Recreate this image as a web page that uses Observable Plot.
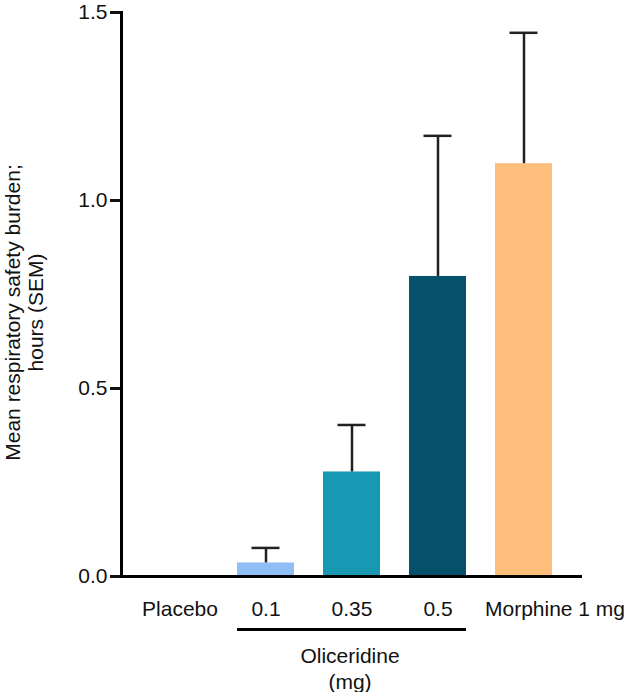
<!DOCTYPE html>
<html>
<head>
<meta charset="utf-8">
<script src="https://cdn.jsdelivr.net/npm/d3@7"></script>
<script src="https://cdn.jsdelivr.net/npm/@observablehq/plot@0.6"></script>
<style>
  body { margin: 0; background: #fff; }
  #chart svg { font-family: "Liberation Sans", Arial, sans-serif; }
</style>
</head>
<body>
<div id="chart"></div>
<script>
const groups = ["Placebo", "0.1", "0.35", "0.5", "Morphine 1 mg"];
const means = [0, 0.036, 0.278, 0.798, 1.098];
const upper = [0, 0.076, 0.403, 1.172, 1.446];
const colors = ["#ffffff", "#8fbef7", "#1798b3", "#05506a", "#fdbe7b"];
const yTicks = [0, 0.5, 1.0, 1.5];
const yLabel = "Mean respiratory safety burden;\nhours (SEM)";
const bracketLabel = "Oliceridine\n(mg)";

const data = groups.map((g, i) => ({group: g, mean: means[i], upper: upper[i]}));
const withErr = data.filter(d => d.upper > d.mean);

const chart = Plot.plot({
  width: 628,
  height: 692,
  marginTop: 12,
  marginBottom: 116,
  marginLeft: 121,
  marginRight: 46,
  style: {fontSize: "21px", fontFamily: "Liberation Sans, Arial, sans-serif", color: "#111"},
  x: {domain: groups, paddingInner: 0.34, paddingOuter: 0.35, axis: null},
  y: {domain: [0, 1.5], axis: null},
  color: {domain: groups, range: colors},
  marks: [
    Plot.barY(data, {x: "group", y: "mean", fill: "group"}),
    Plot.ruleX(withErr, {x: "group", y1: "mean", y2: "upper", stroke: "#222", strokeWidth: 2.5}),
    Plot.tickY(withErr, {x: "group", y: "upper", stroke: "#222", strokeWidth: 2.5, insetLeft: 14.5, insetRight: 14.5}),
    Plot.axisY({ticks: yTicks, tickFormat: d3.format(".1f"), tickSize: 11, tickPadding: 3, strokeWidth: 3, label: null, fontSize: 21}),
    Plot.frame({anchor: "left", strokeWidth: 3, stroke: "#000"}),
    Plot.ruleY([0], {strokeWidth: 3, stroke: "#000"}),
    Plot.axisX({ticks: groups.slice(0, 4), tickSize: 0, tickPadding: 25, label: null, fontSize: 21}),
    Plot.axisX({ticks: groups.slice(4), tickSize: 0, tickPadding: 25, dx: 31, label: null, fontSize: 21}),
    Plot.ruleY([0], {x1: () => "0.1", x2: () => "0.5", dy: 53, strokeWidth: 3, stroke: "#000"}),
    Plot.text([bracketLabel], {x: () => "0.35", y: () => 0, text: d => d, dy: 69, dx: -2, lineAnchor: "top", lineHeight: 1.2, fontSize: 21, fill: "#111"}),
    Plot.text([yLabel], {frameAnchor: "left", text: d => d, rotate: -90, dx: -97, dy: 18, textAnchor: "middle", lineAnchor: "middle", lineHeight: 1.1, fontSize: 21, fill: "#111"})
  ]
});

d3.select("#chart").append(() => chart);
</script>
</body>
</html>
